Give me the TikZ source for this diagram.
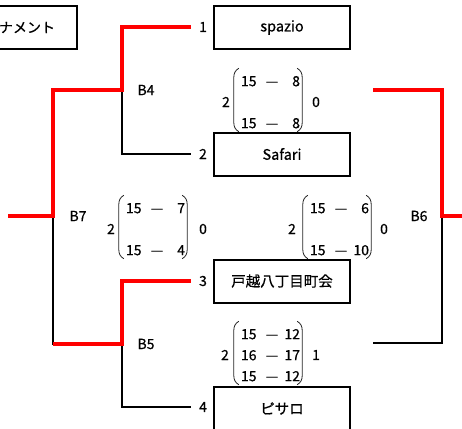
\documentclass[tikz,border=0pt]{standalone}
\usepackage{fontspec}
\setmainfont{Noto Sans CJK JP}[FakeBold=0.6]
\usetikzlibrary{calc}
\newcommand\scrow[2]{\makebox[15pt][l]{#1}\hspace{10pt}\makebox[12pt]{—}\hspace{8pt}\makebox[14pt][r]{#2}}
\newcommand\mparens[1]{%
  \draw[paren] ($(#1.north west)+(-2,-3)$) .. controls ($(#1.north west)+(-5.5,-1)$) and ($(#1.north west)+(-7,2)$) .. ($(#1.north west)+(-7,6)$)
    -- ($(#1.south west)+(-7,-12)$) .. controls ($(#1.south west)+(-7,-8)$) and ($(#1.south west)+(-5.5,-5)$) .. ($(#1.south west)+(-2,-3)$);
  \draw[paren] ($(#1.north east)+(-3,-3)$) .. controls ($(#1.north east)+(0.5,-1)$) and ($(#1.north east)+(2,2)$) .. ($(#1.north east)+(2,6)$)
    -- ($(#1.south east)+(2,-12)$) .. controls ($(#1.south east)+(2,-8)$) and ($(#1.south east)+(0.5,-5)$) .. ($(#1.south east)+(-3,-3)$);
}
\begin{document}
\begin{tikzpicture}[x=1pt,y=-1pt,
  team/.style={draw, line width=2pt, minimum width=136pt, minimum height=43pt, inner sep=0pt, font=\fontsize{14.5}{16}\selectfont},
  titlebox/.style={draw, line width=2pt, inner sep=0pt, font=\fontsize{14}{16}\selectfont},
  lbl/.style={inner sep=0pt, font=\fontsize{14}{16}\selectfont},
  score/.style={inner sep=0pt, font=\fontsize{14}{21}\selectfont},
  win/.style={draw=red, line width=4pt},
  lose/.style={draw=black, line width=2pt},
  paren/.style={draw=black!85, line width=0.8pt}]
\useasboundingbox (0,0) rectangle (462,428);
\clip (0,0) rectangle (462,428);
\fill[white] (0,0) rectangle (462,428);

% title
\node[titlebox, minimum width=117pt, minimum height=43pt, text width=73pt, align=right] (title) at (18.5,27.5) {ナメント};

% teams
\node[team] (t1) at (282,27.5) {spazio};
\node[team] (t2) at (282,154) {Safari};
\node[team] (t3) at (282,281) {戸越八丁目町会};
\node[team] (t4) at (282,408.5) {ピサロ};

% seeds
\node[lbl] (n1) at (203,27) {1};
\node[lbl] (n2) at (203,154) {2};
\node[lbl] (n3) at (203,281) {3};
\node[lbl] (n4) at (203,407) {4};

% match labels
\node[lbl] (B4) at (146,90) {B4};
\node[lbl] (B7) at (78,216) {B7};
\node[lbl] (B5) at (146,344) {B5};
\node[lbl] (B6) at (419,216) {B6};

% joints
\coordinate (j4) at (122,90);
\coordinate (j5) at (122,344);
\coordinate (j7) at (53,216);
\coordinate (rootL) at (8,216);
\coordinate (j6) at (442,216);
\coordinate (rootR) at (466,216);
\coordinate (r6a) at (373,90);
\coordinate (r6b) at (373,343);

% losing (black) branches
\draw[lose] (j4) |- ([xshift=-8pt]n2.west);
\draw[lose] (j7) |- (j5);
\draw[lose] (j5) |- ([xshift=-8pt]n4.west);
\draw[lose] (j6) |- (r6b);

% winning (red) branches
\draw[win] (rootL) -- (j7) |- (j4) |- ([xshift=-8pt]n1.west);
\draw[win] (j7 |- j5) -- (j5) |- ([xshift=-8pt]n3.west);
\draw[win] (r6a) -| (j6) -- (rootR);

% scores
\node[score] (s4) at (270.5,103) {\begin{tabular}{@{}l@{}}\scrow{15}{8}\\ \\ \scrow{15}{8}\end{tabular}};
\node[score] (s7) at (155.5,230) {\begin{tabular}{@{}l@{}}\scrow{15}{7}\\ \\ \scrow{15}{4}\end{tabular}};
\node[score] (s6) at (339.5,230) {\begin{tabular}{@{}l@{}}\scrow{15}{6}\\ \\ \scrow{15}{10}\end{tabular}};
\node[score] (s5) at (270.5,356) {\begin{tabular}{@{}l@{}}\scrow{15}{12}\\ \scrow{16}{17}\\ \scrow{15}{12}\end{tabular}};
\mparens{s4}
\mparens{s7}
\mparens{s6}
\mparens{s5}

\node[lbl] (a4) at (226,102) {2};
\node[lbl] (b4) at (316,102) {0};
\node[lbl] (a7) at (111,229) {2};
\node[lbl] (b7) at (203,229) {0};
\node[lbl] (a6) at (292,229) {2};
\node[lbl] (b6) at (384,229) {0};
\node[lbl] (a5) at (225,355) {2};
\node[lbl] (b5) at (316,355) {1};
\end{tikzpicture}
\end{document}
